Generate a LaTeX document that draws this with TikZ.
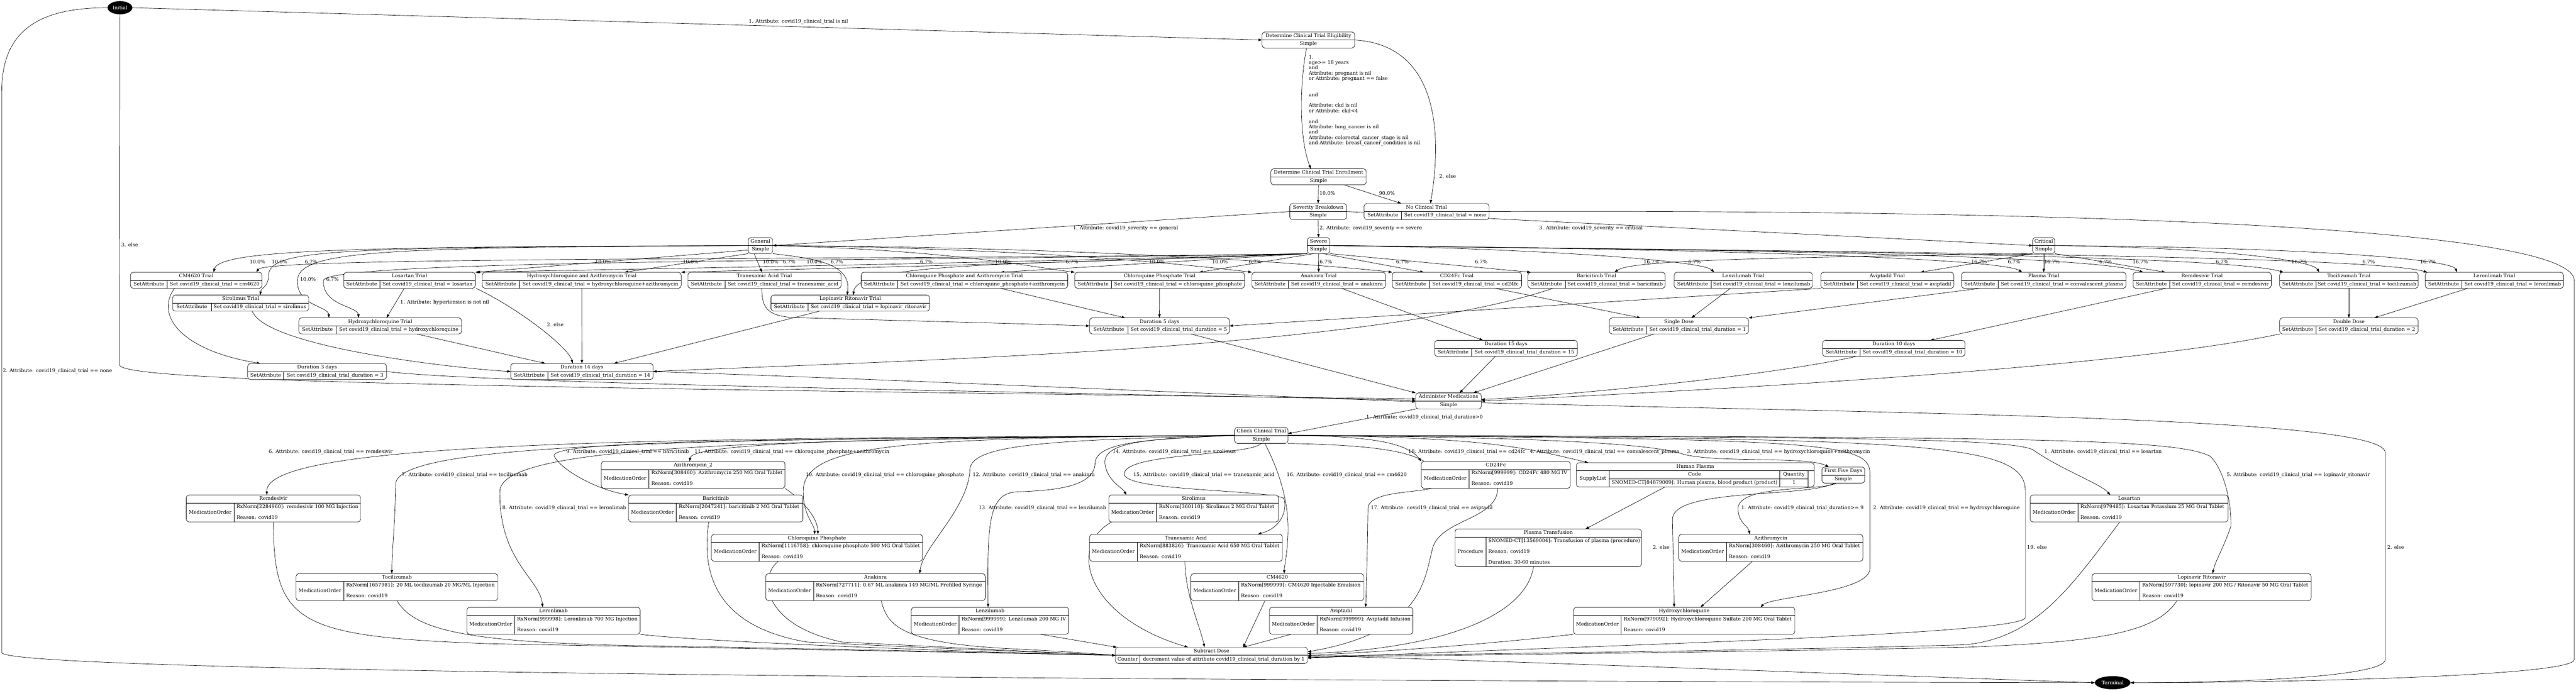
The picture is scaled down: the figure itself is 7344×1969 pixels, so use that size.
\documentclass[tikz,border=0pt]{standalone}
\usepackage{fontspec}
\setmainfont{DejaVu Serif}
\usetikzlibrary{arrows.meta,shapes.geometric}
\pgfdeclarelayer{edges}
\pgfsetlayers{edges,main}
\newcommand\fs{\fontsize{14bp}{15.3bp}\selectfont}
\tikzset{
  bx/.style={draw, line width=1bp, rounded corners=8bp, fill=white, inner sep=0pt, outer sep=0pt},
  ln/.style={line width=1bp},
  tx/.style={font=\fs, inner sep=0pt, text height=10bp, text depth=3bp},
  lb/.style={font=\fs, inner sep=0pt, text height=10bp, text depth=3bp},
  conn/.style={line width=1bp, -{Triangle[length=10bp,width=7bp]}},
  endpt/.style={ellipse, fill=black, draw=black, text=white, font=\fs, inner sep=0pt},
}
\newcommand\NodeS[6]{%
  \node[bx, minimum width=#4bp-#2bp, minimum height=#5bp-#3bp] (#1) at ({(#2+#4)/2},{(#3+#5)/2}) {};
  \draw[ln] (#2,#3+23) -- (#4,#3+23);
  \node[tx] at ({(#2+#4)/2},{#3+11.5}) {#6};
  \node[tx] at ({(#2+#4)/2},{(#3+23+#5)/2}) {Simple};
}
\newcommand\NodeA[8]{%
  \node[bx, minimum width=#4bp-#2bp, minimum height=#5bp-#3bp] (#1) at ({(#2+#4)/2},{(#3+#5)/2}) {};
  \draw[ln] (#2,#3+23) -- (#4,#3+23);
  \draw[ln] (#6,#3+23) -- (#6,#5);
  \node[tx] at ({(#2+#4)/2},{#3+11.5}) {#7};
  \node[tx] at ({(#2+#6)/2},{(#3+23+#5)/2}) {SetAttribute};
  \node[tx] at ({(#6+#4)/2},{(#3+23+#5)/2}) {#8};
}
\newcommand\NodeM[8]{%
  \node[bx, minimum width=#4bp-#2bp, minimum height=#5bp-#3bp] (#1) at ({(#2+#4)/2},{(#3+#5)/2}) {};
  \draw[ln] (#2,#3+23) -- (#4,#3+23);
  \draw[ln] (#6,#3+23) -- (#6,#5);
  \node[tx] at ({(#2+#4)/2},{#3+11.5}) {#7};
  \node[tx] at ({(#2+#6)/2},{(#3+23+#5)/2}) {MedicationOrder};
  \node[tx,anchor=west] at (#6+7,#3+34) {#8};
  \node[tx,anchor=west] at (#6+7,#3+65) {Reason: covid19};
}
\newcommand\Lc[3]{\node[lb] at (#1,#2) {#3};}
\newcommand\Lw[3]{\node[lb,anchor=west] at (#1,#2) {#3};}
\begin{document}
\begin{tikzpicture}[x=1bp,y=-1bp]
\useasboundingbox (0,0) rectangle (7344,1969);

% ---------- nodes ----------
\node[endpt, minimum width=70bp, minimum height=37bp] (init) at (342,22) {Initial};
\node[endpt, minimum width=101bp, minimum height=37bp] (term) at (6023,1946) {Terminal};

\NodeS{elig}{3598}{91}{3862}{137}{Determine Clinical Trial Eligibility}
\NodeS{enroll}{3623}{481}{3895}{527}{Determine Clinical Trial Enrollment}
\NodeS{sev}{3677}{580}{3839}{626}{Severity Breakdown}
\NodeA{nct}{3889}{580}{4245}{626}{3995}{No Clinical Trial}{Set covid19\_clinical\_trial = none}
\NodeS{gen}{2133}{677}{2203}{723}{General}
\NodeS{sevr}{3727}{677}{3791}{723}{Severe}
\NodeS{crit}{5795}{677}{5858}{723}{Critical}

\NodeA{tCM}{372}{776}{747}{822}{477}{CM4620 Trial}{Set covid19\_clinical\_trial = cm4620}
\NodeA{tLos}{980}{776}{1355}{822}{1083}{Losartan Trial}{Set covid19\_clinical\_trial = losartan}
\NodeA{tHCQA}{1375}{776}{1942}{822}{1481}{Hydroxychloroquine and Azithromycin Trial}{Set covid19\_clinical\_trial = hydroxychloroquine+azithromycin}
\NodeA{tTXA}{1961}{776}{2398}{822}{2067}{Tranexamic Acid Trial}{Set covid19\_clinical\_trial = tranexamic\_acid}
\NodeA{tCPA}{2455}{776}{3044}{822}{2559}{Chloroquine Phosphate and Azithromycin Trial}{Set covid19\_clinical\_trial = chloroquine\_phosphate+azithromycin}
\NodeA{tCP}{3064}{776}{3548}{822}{3169}{Chloroquine Phosphate Trial}{Set covid19\_clinical\_trial = chloroquine\_phosphate}
\NodeA{tAna}{3569}{776}{3950}{822}{3673}{Anakinra Trial}{Set covid19\_clinical\_trial = anakinra}
\NodeA{tCD}{3969}{776}{4338}{822}{4075}{CD24Fc Trial}{Set covid19\_clinical\_trial = cd24fc}
\NodeA{tBar}{4356}{776}{4747}{822}{4462}{Baricitinib Trial}{Set covid19\_clinical\_trial = baricitinib}
\NodeA{tLenz}{4773}{776}{5167}{822}{4878}{Lenzilumab Trial}{Set covid19\_clinical\_trial = lenzilumab}
\NodeA{tAvi}{5191}{776}{5570}{822}{5296}{Aviptadil Trial}{Set covid19\_clinical\_trial = aviptadil}
\NodeA{tPla}{5592}{776}{6061}{822}{5696}{Plasma Trial}{Set covid19\_clinical\_trial = convalescent\_plasma}
\NodeA{tRem}{6081}{776}{6475}{822}{6186}{Remdesivir Trial}{Set covid19\_clinical\_trial = remdesivir}
\NodeA{tToc}{6499}{776}{6894}{822}{6602}{Tocilizumab Trial}{Set covid19\_clinical\_trial = tocilizumab}
\NodeA{tLer}{6914}{776}{7308}{822}{7019}{Leronlimab Trial}{Set covid19\_clinical\_trial = leronlimab}
\NodeA{tSir}{492}{841}{880}{887}{602}{Sirolimus Trial}{Set covid19\_clinical\_trial = sirolimus}
\NodeA{tLop}{2198}{841}{2650}{887}{2303}{Lopinavir Ritonavir Trial}{Set covid19\_clinical\_trial = lopinavir\_ritonavir}
\NodeA{tHCQ}{852}{906}{1316}{952}{958}{Hydroxychloroquine Trial}{Set covid19\_clinical\_trial = hydroxychloroquine}

\NodeA{d5}{3106}{906}{3505}{952}{3216}{Duration 5 days}{Set covid19\_clinical\_trial\_duration = 5}
\NodeA{d1}{4588}{906}{4985}{952}{4695}{Single Dose}{Set covid19\_clinical\_trial\_duration = 1}
\NodeA{d2}{6499}{906}{6894}{952}{6602}{Double Dose}{Set covid19\_clinical\_trial\_duration = 2}
\NodeA{d15}{4090}{970}{4497}{1016}{4195}{Duration 15 days}{Set covid19\_clinical\_trial\_duration = 15}
\NodeA{d10}{5196}{970}{5602}{1016}{5303}{Duration 10 days}{Set covid19\_clinical\_trial\_duration = 10}
\NodeA{d3}{706}{1036}{1102}{1082}{809}{Duration 3 days}{Set covid19\_clinical\_trial\_duration = 3}
\NodeA{d14}{1456}{1036}{1862}{1082}{1562}{Duration 14 days}{Set covid19\_clinical\_trial\_duration = 14}

\NodeS{admin}{4036}{1120}{4223}{1166}{Administer Medications}
\NodeS{check}{3520}{1218}{3672}{1264}{Check Clinical Trial}

\NodeM{mAz2}{1714}{1315}{2238}{1392}{1850}{Azithromycin\_2}{RxNorm[308460]: Azithromycin 250 MG Oral Tablet}
\NodeM{mCD}{4052}{1315}{4477}{1392}{4188}{CD24Fc}{RxNorm[999999]: CD24Fc 480 MG IV}
\NodeM{mRem}{531}{1411}{1028}{1488}{667}{Remdesivir}{RxNorm[2284960]: remdesivir 100 MG Injection}
\NodeM{mBar}{1792}{1411}{2289}{1488}{1928}{Baricitinib}{RxNorm[2047241]: baricitinib 2 MG Oral Tablet}
\NodeM{mSir}{3161}{1411}{3645}{1488}{3297}{Sirolimus}{RxNorm[360110]: Sirolimus 2 MG Oral Tablet}
\NodeM{mLos}{5788}{1411}{6352}{1488}{5924}{Losartan}{RxNorm[979485]: Losartan Potassium 25 MG Oral Tablet}
\NodeM{mCP}{2028}{1523}{2630}{1600}{2164}{Chloroquine Phosphate}{RxNorm[1116758]: chloroquine phosphate 500 MG Oral Tablet}
\NodeM{mTXA}{3106}{1523}{3656}{1600}{3242}{Tranexamic Acid}{RxNorm[883826]: Tranexamic Acid 650 MG Oral Tablet}
\NodeM{mAz}{4786}{1523}{5311}{1600}{4922}{Azithromycin}{RxNorm[308460]: Azithromycin 250 MG Oral Tablet}
\NodeM{mToc}{844}{1635}{1419}{1712}{980}{Tocilizumab}{RxNorm[1657981]: 20 ML tocilizumab 20 MG/ML Injection}
\NodeM{mAna}{2183}{1635}{2809}{1712}{2319}{Anakinra}{RxNorm[727711]: 0.67 ML anakinra 149 MG/ML Prefilled Syringe}
\NodeM{mCM}{3395}{1635}{3888}{1712}{3531}{CM4620}{RxNorm[999999]: CM4620 Injectable Emulsion}
\NodeM{mLop}{5964}{1635}{6589}{1712}{6100}{Lopinavir Ritonavir}{RxNorm[597730]: lopinavir 200 MG / Ritonavir 50 MG Oral Tablet}
\NodeM{mLer}{1331}{1731}{1825}{1808}{1467}{Leronlimab}{RxNorm[999998]: Leronlimab 700 MG Injection}
\NodeM{mLenz}{2598}{1731}{3047}{1808}{2734}{Lenzilumab}{RxNorm[999999]: Lenzilumab 200 MG IV}
\NodeM{mAvi}{3619}{1731}{4028}{1808}{3755}{Aviptadil}{RxNorm[999999]: Aviptadil Infusion}
\NodeM{mHCQ}{4486}{1731}{5117}{1808}{4622}{Hydroxychloroquine}{RxNorm[979092]: Hydroxychloroquine Sulfate 200 MG Oral Tablet}

\NodeS{fiveday}{5194}{1331}{5316}{1377}{First Five Days}

% Human Plasma
\node[bx, minimum width=678bp, minimum height=69bp] (mHP) at (4833,1353.5) {};
\draw[ln] (4494,1342) -- (5172,1342);
\node[tx] at (4833,1330.5) {Human Plasma};
\draw[ln] (4588,1342) -- (4588,1388);
\node[tx] at (4541,1365) {SupplyList};
\draw[ln] (4588,1365) -- (5155,1365);
\draw[ln] (5074,1342) -- (5074,1388);
\draw[ln] (5155,1342) -- (5155,1388);
\node[tx] at (4831,1353.5) {Code};
\node[tx] at (5114.5,1353.5) {Quantity};
\node[tx] at (4831,1376.5) {SNOMED-CT[84879009]: Human plasma, blood product (product)};
\node[tx] at (5114.5,1376.5) {1};

% Plasma Transfusion
\node[bx, minimum width=532bp, minimum height=107bp] (mPT) at (4414,1561.5) {};
\draw[ln] (4148,1531) -- (4680,1531);
\node[tx] at (4414,1519.5) {Plasma Transfusion};
\draw[ln] (4236,1531) -- (4236,1615);
\node[tx] at (4192,1573) {Procedure};
\node[tx,anchor=west] at (4243,1542) {SNOMED-CT[13569004]: Transfusion of plasma (procedure)};
\node[tx,anchor=west] at (4243,1573) {Reason: covid19};
\node[tx,anchor=west] at (4243,1604) {Duration: 30-60 minutes};

% Subtract Dose
\node[bx, minimum width=548bp, minimum height=46bp] (sub) at (3454,1868) {};
\draw[ln] (3180,1868) -- (3728,1868);
\node[tx] at (3454,1856.5) {Subtract Dose};
\draw[ln] (3250,1868) -- (3250,1891);
\node[tx] at (3215,1879.5) {Counter};
\node[tx] at (3489,1879.5) {decrement value of attribute covid19\_clinical\_trial\_duration by 1};

% ---------- connectors ----------
\begin{pgfonlayer}{edges}
% Initial
\draw[conn] (init.east) -- (elig.west);
\draw[conn] (init.south) -- (341,1040) .. controls (341,1090) and (1500,1105) .. ([yshift=6bp]admin.west);
\draw[conn] (init.west) .. controls (120,22) and (5,80) .. (5,260) -- (5,1860) .. controls (5,1915) and (3000,1940) .. (term.west);
% eligibility / enrollment
\draw[conn] ([xshift=-5bp]elig.south) .. controls (3706,230) and (3702,390) .. ([xshift=-22bp]enroll.north);
\draw[conn] (elig.east) .. controls (4100,128) and (4112,380) .. ([xshift=11bp]nct.north);
\draw[conn] (enroll.south) -- (sev.north);
\draw[conn] ([xshift=73bp]enroll.south) -- ([xshift=-72bp]nct.north);
\draw[conn] (nct.east) .. controls (5600,598) and (7339,630) .. (7339,800) -- (7339,1880) .. controls (7339,1928) and (6500,1946) .. (term.east);
% severity
\draw[conn] (sev.west) -- (gen.east);
\draw[conn] (sev.south) -- (sevr.north);
\draw[conn] (sev.east) .. controls (4500,635) and (5300,675) .. (crit.west);
% General
\draw[conn] (gen.west) .. controls (1000,703) and (625,712) .. ([xshift=49.5bp]tCM.north);
\draw[conn] (gen.west) .. controls (900,705) and (765,712) .. (765,790) .. controls (765,815) and (744,822) .. ([xshift=56bp]tSir.north);
\draw[conn] (gen.west) .. controls (1100,706) and (850,712) .. (848,800) .. controls (846,872) and (935,872) .. ([xshift=-146bp]tHCQ.north);
\draw[conn] (gen.200) -- ([xshift=191.5bp]tLos.north);
\draw[conn] (gen.south west) -- ([xshift=122.5bp]tHCQA.north);
\draw[conn] ([xshift=-18bp]gen.south) -- ([xshift=-7.5bp]tTXA.north);
\draw[conn] (gen.south east) .. controls (2300,735) and (2430,745) .. ([xshift=-9bp]tLop.north);
\draw[conn] (gen.east) .. controls (2700,712) and (2950,762) .. (tCP.north west);
\draw[conn] (gen.east) .. controls (3000,708) and (3450,762) .. (tAna.north west);
\draw[conn] (gen.east) .. controls (3200,705) and (3850,762) .. (tCD.north west);
% Severe
\draw[conn] (sevr.south west) .. controls (2600,742) and (760,730) .. ([xshift=171.5bp]tCM.north);
\draw[conn] (sevr.south west) .. controls (2600,745) and (925,738) .. (922,800) .. controls (920,872) and (1018,872) .. ([xshift=-61bp]tHCQ.north);
\draw[conn] (sevr.south west) .. controls (2800,752) and (1500,772) .. (tLos.north east);
\draw[conn] (sevr.south west) .. controls (2900,755) and (2050,772) .. (tHCQA.north east);
\draw[conn] (sevr.south west) .. controls (3000,755) and (2440,742) .. ([xshift=9bp]tLop.north);
\draw[conn] (sevr.south west) -- ([xshift=103.5bp]tCPA.north);
\draw[conn] (sevr.240) -- ([xshift=113bp]tCP.north);
\draw[conn] (sevr.south) -- (tAna.north);
\draw[conn] (sevr.300) -- ([xshift=-94.5bp]tCD.north);
\draw[conn] (sevr.south east) -- ([xshift=-187.5bp]tBar.north);
\draw[conn] (sevr.east) .. controls (4300,705) and (4850,740) .. ([xshift=-83bp]tLenz.north);
\draw[conn] (sevr.east) .. controls (4800,708) and (5700,735) .. ([xshift=-61.5bp]tPla.north);
\draw[conn] (sevr.east) .. controls (5000,712) and (5950,728) .. ([xshift=-168bp]tRem.north);
\draw[conn] (sevr.east) .. controls (5200,715) and (6350,730) .. ([xshift=-186.5bp]tToc.north);
\draw[conn] (sevr.east) .. controls (5400,718) and (6750,730) .. ([xshift=-191bp]tLer.north);
% Critical
\draw[conn] (crit.south west) .. controls (5000,735) and (4650,742) .. ([xshift=51.5bp]tBar.north);
\draw[conn] (crit.south west) -- ([xshift=94.5bp]tAvi.north);
\draw[conn] (crit.south) -- (tPla.north);
\draw[conn] (crit.south east) -- ([xshift=-105bp]tRem.north);
\draw[conn] (crit.east) .. controls (6300,705) and (6590,740) .. ([xshift=-84.5bp]tToc.north);
\draw[conn] (crit.east) .. controls (6600,705) and (6990,740) .. ([xshift=-106bp]tLer.north);
% trials -> durations
\draw[conn] ([xshift=-62bp]tCM.south) .. controls (440,900) and (520,1000) .. ([xshift=-162bp]d3.north);
\draw[conn] ([xshift=33bp]tSir.south) .. controls (760,990) and (1300,1050) .. (d14.west);
\draw[conn] ([xshift=104bp]tHCQ.south) -- ([xshift=-104bp]d14.north);
\draw[conn] ([xshift=-15bp]tLos.south) -- ([xshift=18bp]tHCQ.north);
\draw[conn] ([xshift=190bp]tLos.south) .. controls (1480,880) and (1620,990) .. ([xshift=-26bp]d14.north);
\draw[conn] (tHCQA.south) -- (d14.north);
\draw[conn] ([xshift=-88bp]tLop.south) -- ([xshift=91bp]d14.north);
\draw[conn] ([xshift=-124.5bp]tBar.south) .. controls (3900,1000) and (2500,1030) .. (d14.east);
\draw[conn] ([xshift=-7.5bp]tTXA.south) .. controls (2172,875) and (2185,900) .. (2260,905) .. controls (2600,915) and (2900,922) .. (d5.west);
\draw[conn] ([xshift=103.5bp]tCPA.south) -- ([xshift=-97.5bp]d5.north);
\draw[conn] (tCP.south) -- (d5.north);
\draw[conn] (tAvi.south west) -- (d5.east);
\draw[conn] ([xshift=65.5bp]tAna.south) -- ([xshift=-65.5bp]d15.north);
\draw[conn] ([xshift=109.5bp]tCD.south) -- ([xshift=-109.5bp]d1.north);
\draw[conn] ([xshift=-37bp]tLenz.south) -- ([xshift=35.5bp]d1.north);
\draw[conn] ([xshift=-182.5bp]tPla.south) -- (d1.north east);
\draw[conn] ([xshift=-103bp]tRem.south) -- ([xshift=104bp]d10.north);
\draw[conn] (tToc.south) -- (d2.north);
\draw[conn] ([xshift=-76bp]tLer.south) -- ([xshift=72.5bp]d2.north);
% durations -> administer
\draw[conn] (d3.east) .. controls (1400,1095) and (3000,1118) .. ([yshift=2bp]admin.west);
\draw[conn] (d14.east) .. controls (2500,1080) and (3500,1125) .. ([yshift=-2bp]admin.west);
\draw[conn] ([xshift=89.5bp]d5.south) -- (admin.north west);
\draw[conn] ([xshift=-30.5bp]d15.south) -- ([xshift=31.5bp]admin.north);
\draw[conn] ([xshift=-70.5bp]d1.south) -- ([xshift=70.5bp]admin.north);
\draw[conn] ([xshift=-107bp]d10.south) .. controls (5050,1070) and (4500,1125) .. ([yshift=4bp]admin.east);
\draw[conn] (d2.south west) .. controls (6000,1060) and (4600,1125) .. (admin.east);
% administer
\draw[conn] (admin.south west) -- ([yshift=5bp]check.east);
\draw[conn] ([yshift=-5bp]admin.east) .. controls (5500,1180) and (6800,1190) .. (6800,1290) -- (6800,1880) .. controls (6800,1928) and (6400,1946) .. (term.east);
% check clinical trial
\draw[conn] (check.west) .. controls (2000,1250) and (752,1250) .. ([xshift=-18.5bp]mRem.north);
\draw[conn] (check.west) .. controls (2000,1252) and (1130,1260) .. (1128,1380) .. controls (1126,1500) and (1118,1560) .. ([xshift=-14.5bp]mToc.north);
\draw[conn] (check.west) .. controls (2200,1255) and (1430,1265) .. (1425,1400) .. controls (1422,1600) and (1540,1650) .. ([xshift=-31bp]mLer.north);
\draw[conn] (check.west) .. controls (2400,1252) and (1560,1250) .. (1580,1300) .. controls (1600,1340) and (1700,1395) .. (mBar.north west);
\draw[conn] (check.west) .. controls (2600,1250) and (2290,1260) .. (2290,1400) .. controls (2290,1470) and (2320,1490) .. ([xshift=-6bp]mCP.north);
\draw[conn] (check.west) .. controls (2700,1248) and (1975,1255) .. ([xshift=-10bp]mAz2.north);
\draw[conn] (check.west) .. controls (3000,1255) and (2765,1265) .. (2765,1340) .. controls (2760,1450) and (2630,1560) .. ([xshift=126bp]mAna.north);
\draw[conn] (check.west) .. controls (3300,1252) and (3125,1255) .. (3122,1320) .. controls (3120,1390) and (3000,1398) .. (2900,1402) .. controls (2815,1405) and (2815,1500) .. ([xshift=-5.5bp]mLenz.north);
\draw[conn] (check.west) .. controls (3300,1250) and (3145,1255) .. (3150,1320) .. controls (3155,1370) and (3200,1390) .. ([xshift=-192bp]mSir.north);
\draw[conn] (check.south) .. controls (3560,1300) and (3210,1290) .. (3205,1350) .. controls (3200,1400) and (3600,1395) .. (3660,1420) .. controls (3668,1440) and (3665,1500) .. ([xshift=205bp]mTXA.north);
\draw[conn] ([xshift=10bp]check.south) .. controls (3640,1330) and (3675,1420) .. (3672,1520) .. controls (3670,1580) and (3662,1610) .. ([xshift=19.5bp]mCM.north);
\draw[conn] (check.south east) .. controls (4000,1270) and (4100,1300) .. (4097,1380) .. controls (4095,1410) and (3900,1390) .. (3900,1450) .. controls (3898,1600) and (3895,1680) .. ([xshift=70bp]mAvi.north);
\draw[conn] (check.east) .. controls (3900,1243) and (4010,1260) .. (mCD.north west);
\draw[conn] (check.east) .. controls (4200,1245) and (4330,1270) .. ([xshift=-305bp]mHP.north);
\draw[conn] (check.east) .. controls (4300,1245) and (4700,1260) .. (4800,1295) .. controls (4900,1320) and (5150,1300) .. ([xshift=-41bp]fiveday.north);
\draw[conn] (check.east) .. controls (5200,1250) and (5331,1260) .. (5331,1350) -- (5331,1620) .. controls (5331,1690) and (5050,1700) .. ([xshift=217.5bp]mHCQ.north);
\draw[conn] (check.east) .. controls (5300,1245) and (5760,1250) .. (5800,1285) .. controls (5880,1340) and (5990,1380) .. ([xshift=-54bp]mLos.north);
\draw[conn] (check.east) .. controls (5800,1245) and (6200,1250) .. (6300,1300) .. controls (6335,1330) and (6362,1420) .. (6360,1500) .. controls (6340,1560) and (6315,1600) .. ([xshift=31.5bp]mLop.north);
\draw[conn] (check.east) .. controls (5500,1248) and (5774,1260) .. (5774,1400) -- (5774,1760) .. controls (5774,1810) and (4500,1840) .. ([yshift=-8bp]sub.east);
% plasma / first five days chains
\draw[conn] ([xshift=-86bp]mHP.south) -- ([xshift=106bp]mPT.north);
\draw[conn] ([xshift=-20bp]fiveday.south) .. controls (5200,1400) and (4955,1380) .. (4955,1450) .. controls (4955,1490) and (4985,1500) .. ([xshift=-60.5bp]mAz.north);
\draw[conn] ([xshift=-25bp]fiveday.south) .. controls (5150,1420) and (4770,1390) .. (4768,1480) -- ([xshift=-28.5bp]mHCQ.north);
\draw[conn] ([xshift=-52.5bp]mAz.south) -- ([xshift=46.5bp]mHCQ.north);
\draw[conn] (mAz2.south east) .. controls (2280,1420) and (2330,1470) .. ([xshift=3bp]mCP.north);
% medications -> subtract dose
\draw[conn] (mRem.south) .. controls (780,1780) and (850,1815) .. (1400,1835) .. controls (2200,1850) and (2900,1862) .. (sub.west);
\draw[conn] (mToc.south) .. controls (1180,1790) and (1300,1830) .. (1800,1840) .. controls (2400,1850) and (2900,1862) .. (sub.west);
\draw[conn] (mLer.south east) .. controls (2000,1830) and (2800,1860) .. (sub.west);
\draw[conn] ([xshift=-20bp]mBar.south) .. controls (2005,1600) and (2010,1780) .. (2300,1830) .. controls (2700,1850) and (3000,1860) .. (sub.west);
\draw[conn] ([xshift=-110bp]mCP.south) .. controls (2165,1640) and (2165,1780) .. (2400,1830) .. controls (2800,1850) and (3000,1860) .. (sub.west);
\draw[conn] ([xshift=16bp]mAna.south) .. controls (2530,1780) and (2560,1835) .. (2900,1850) .. controls (3050,1858) and (3100,1862) .. (sub.west);
\draw[conn] ([xshift=144bp]mLenz.south) -- ([xshift=-270bp]sub.north);
\draw[conn] ([xshift=-234bp]mSir.south) .. controls (3040,1560) and (3100,1760) .. ([xshift=-67bp]sub.north);
\draw[conn] ([xshift=-3bp]mTXA.south) .. controls (3380,1700) and (3420,1780) .. ([xshift=-20bp]sub.north);
\draw[conn] ([xshift=-35bp]mCM.south) -- ([xshift=90bp]sub.north);
\draw[conn] ([xshift=-143bp]mAvi.south) -- ([xshift=90bp]sub.north);
\draw[conn] ([xshift=5bp]mCD.south) .. controls (4270,1480) and (4110,1480) .. (4085,1560) .. controls (4060,1650) and (4060,1800) .. ([yshift=10bp]sub.east);
\draw[conn] ([xshift=-42bp]mPT.south) .. controls (4350,1760) and (4100,1850) .. ([yshift=5bp]sub.east);
\draw[conn] (mHCQ.south west) .. controls (4300,1830) and (4000,1855) .. (sub.east);
\draw[conn] ([xshift=-27bp]mLos.south) .. controls (5900,1680) and (5800,1820) .. (5600,1838) .. controls (4800,1860) and (4000,1865) .. ([yshift=-3bp]sub.east);
\draw[conn] ([xshift=-70bp]mLop.south) .. controls (6150,1800) and (6000,1830) .. (5600,1845) .. controls (4800,1862) and (4000,1868) .. ([yshift=-6bp]sub.east);
\draw[conn] (sub.east) .. controls (4600,1895) and (5500,1930) .. (term.west);
\end{pgfonlayer}

% ---------- labels ----------
\Lc{2276}{62}{1. Attribute: covid19\_clinical\_trial is nil}
\Lw{346}{700}{3. else}
\Lw{8}{1057}{2. Attribute: covid19\_clinical\_trial == none}
\node[font=\fs, inner sep=0pt, align=left, anchor=north west] (cond) at (3731,157) {1.\\age>= 18 years\\and\\Attribute: pregnant is nil\\or Attribute: pregnant == false\\ \\ \\and\\ \\Attribute: ckd is nil\\or Attribute: ckd<4\\ \\and\\Attribute: lung\_cancer is nil\\and\\Attribute: colorectal\_cancer\_stage is nil\\and Attribute: breast\_cancer\_condition is nil};
\Lw{4103}{504}{2. else}
\Lc{3784}{553}{10.0\%}
\Lc{3954}{553}{90.0\%}
\Lw{3059}{651}{1. Attribute: covid19\_severity == general}
\Lw{3762}{651}{2. Attribute: covid19\_severity == severe}
\Lw{4388}{651}{3. Attribute: covid19\_severity == critical}
% general percentages
\Lc{734}{748}{10.0\%}
\Lc{797}{748}{10.0\%}
\Lc{878}{797}{10.0\%}
\Lc{1719}{748}{10.0\%}
\Lc{1969}{748}{10.0\%}
\Lc{2197}{748}{10.0\%}
\Lc{2322}{748}{10.0\%}
\Lc{2859}{748}{10.0\%}
\Lc{3298}{748}{10.0\%}
\Lc{3478}{748}{10.0\%}
% severe percentages
\Lc{887}{748}{6.7\%}
\Lc{948}{797}{6.7\%}
\Lc{2250}{748}{6.7\%}
\Lc{2386}{748}{6.7\%}
\Lc{2641}{748}{6.7\%}
\Lc{3056}{748}{6.7\%}
\Lc{3578}{748}{6.7\%}
\Lc{3780}{748}{6.7\%}
\Lc{3998}{748}{6.7\%}
\Lc{4223}{748}{6.7\%}
\Lc{4831}{748}{6.7\%}
\Lc{5742}{748}{6.7\%}
\Lc{6003}{748}{6.7\%}
\Lc{6335}{748}{6.7\%}
\Lc{6753}{748}{6.7\%}
% critical percentages
\Lc{4708}{748}{16.7\%}
\Lc{5642}{748}{16.7\%}
\Lc{5850}{748}{16.7\%}
\Lc{6102}{748}{16.7\%}
\Lc{6555}{748}{16.7\%}
\Lc{6922}{748}{16.7\%}
% losartan trial
\Lw{1141}{863}{1. Attribute: hypertension is not nil}
\Lw{1559}{927}{2. else}
% administer
\Lw{3895}{1190}{1. Attribute: covid19\_clinical\_trial\_duration>0}
\Lw{6806}{1561}{2. else}
% check clinical trial
\Lw{766}{1289}{6. Attribute: covid19\_clinical\_trial == remdesivir}
\Lw{1145}{1354}{7. Attribute: covid19\_clinical\_trial == tocilizumab}
\Lw{1432}{1449}{8. Attribute: covid19\_clinical\_trial == leronlimab}
\Lw{1614}{1289}{9. Attribute: covid19\_clinical\_trial == baricitinib}
\Lw{2297}{1354}{10. Attribute: covid19\_clinical\_trial == chloroquine\_phosphate}
\Lw{1980}{1289}{11. Attribute: covid19\_clinical\_trial == chloroquine\_phosphate+azithromycin}
\Lw{2773}{1354}{12. Attribute: covid19\_clinical\_trial == anakinra}
\Lw{2790}{1449}{13. Attribute: covid19\_clinical\_trial == lenzilumab}
\Lw{3172}{1289}{14. Attribute: covid19\_clinical\_trial == sirolimus}
\Lw{3231}{1354}{15. Attribute: covid19\_clinical\_trial == tranexamic\_acid}
\Lw{3668}{1354}{16. Attribute: covid19\_clinical\_trial == cm4620}
\Lw{3908}{1449}{17. Attribute: covid19\_clinical\_trial == aviptadil}
\Lw{4015}{1289}{18. Attribute: covid19\_clinical\_trial == cd24fc}
\Lw{4361}{1289}{4. Attribute: covid19\_clinical\_trial == convalescent\_plasma}
\Lw{4809}{1289}{3. Attribute: covid19\_clinical\_trial == hydroxychloroquine+azithromycin}
\Lw{5340}{1449}{2. Attribute: covid19\_clinical\_trial == hydroxychloroquine}
\Lw{5828}{1289}{1. Attribute: covid19\_clinical\_trial == losartan}
\Lw{6348}{1354}{5. Attribute: covid19\_clinical\_trial == lopinavir\_ritonavir}
\Lw{5779}{1561}{19. else}
\Lw{4964}{1449}{1. Attribute: covid19\_clinical\_trial\_duration>= 9}
\node[lb,anchor=east] at (4760,1561) {2. else};
\end{tikzpicture}
\end{document}
